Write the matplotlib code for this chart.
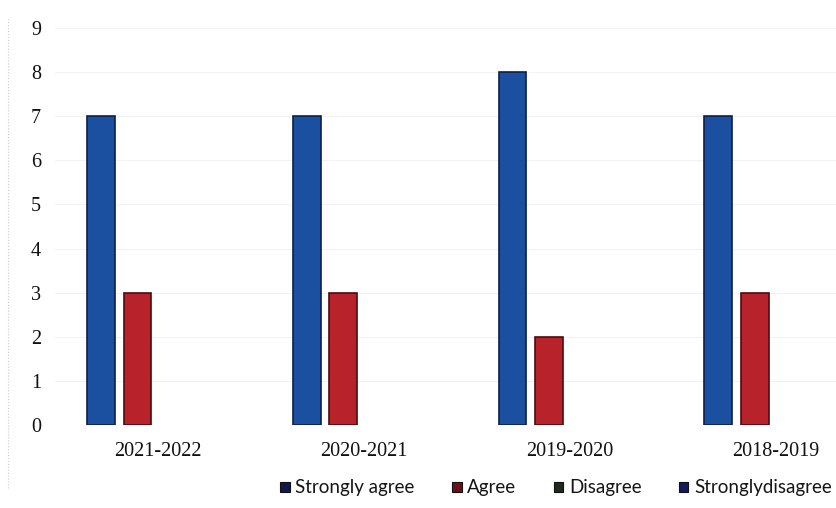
import numpy as np
import matplotlib.pyplot as plt

# data
years = ["2021-2022", "2020-2021", "2019-2020", "2018-2019"]
strongly_agree = [7, 7, 8, 7]
agree = [3, 3, 2, 3]
disagree = [0, 0, 0, 0]
strongly_disagree = [0, 0, 0, 0]

fig = plt.figure(figsize=(8.37, 5.08), dpi=100)
ax = fig.add_axes([55 / 837, 83 / 508, 782 / 837, 397 / 508])

x = np.arange(len(years))
w = 0.135
step = 0.178

ax.bar(x - 1.5 * step, strongly_agree, w, color="#1b4f9f", edgecolor="#0c1f4a",
       linewidth=1.2, label="Strongly agree", zorder=3)
ax.bar(x - 0.5 * step, agree, w, color="#b8222b", edgecolor="#4d0c10",
       linewidth=1.2, label="Agree", zorder=3)
ax.bar(x + 0.5 * step, disagree, w, color="#2b3a2b", linewidth=0,
       label="Disagree", zorder=3)
ax.bar(x + 1.5 * step, strongly_disagree, w, color="#141a5c", linewidth=0,
       label="Stronglydisagree", zorder=3)

ax.set_xlim(-0.49, 3.31)
ax.set_ylim(0, 9)
ax.set_yticks(range(0, 10))
ax.set_xticks(x + 0.01)
ax.set_xticklabels(years)

for s in ax.spines.values():
    s.set_visible(False)
ax.tick_params(length=0)
ax.tick_params(axis="y", pad=10)
ax.tick_params(axis="x", pad=12)
for lab in ax.get_yticklabels() + ax.get_xticklabels():
    lab.set_fontfamily("Liberation Serif")
    lab.set_fontsize(14.5)
    lab.set_color("#111111")

ax.grid(axis="y", color="#f2f2f2", linewidth=0.8, zorder=0)

# faint left border of the scan
fig.add_artist(plt.Line2D([8 / 837, 8 / 837], [20 / 508, 490 / 508],
                          color="#cccccc", linewidth=0.8, linestyle=":"))

leg = fig.legend(handles=ax.containers, labels=["Strongly agree", "Agree", "Disagree", "Stronglydisagree"],
                 loc="center", bbox_to_anchor=(556 / 837, 1 - 488 / 508),
                 ncol=4, frameon=False, handlelength=0.5, handleheight=0.5,
                 handletextpad=0.3, columnspacing=2.0,
                 prop={"family": "Lato", "size": 13.5})
leg_colors = ["#101a4a", "#6a1018", "#1e2a1e", "#141a5c"]
for h, c in zip(leg.legend_handles, leg_colors):
    h.set_facecolor(c)
    h.set_edgecolor("#111111")
    h.set_linewidth(0.8)
for t in leg.get_texts():
    t.set_color("#151515")

plt.savefig("out.png", dpi=100)
